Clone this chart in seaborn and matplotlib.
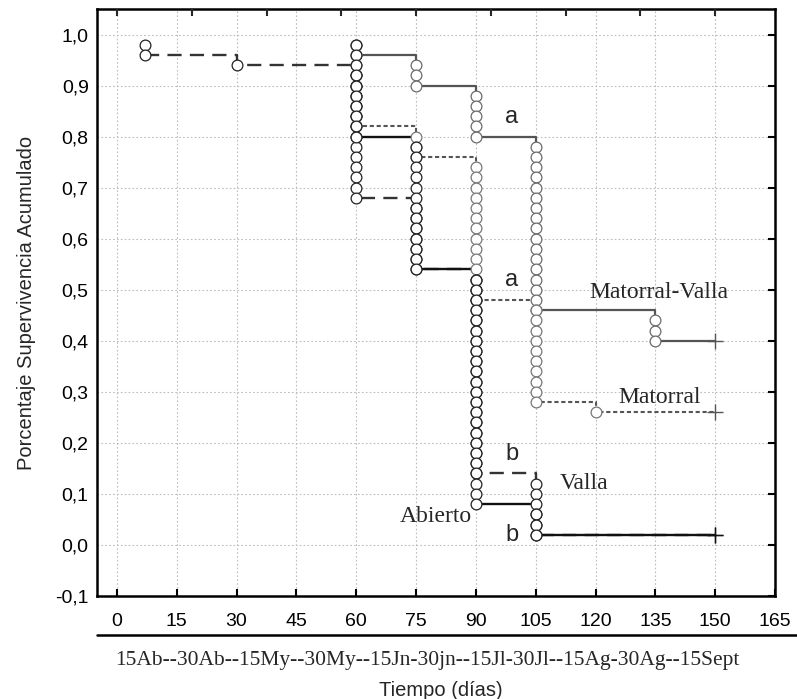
import numpy as np
import pandas as pd
import matplotlib
matplotlib.use("Agg")
import matplotlib.pyplot as plt
import seaborn as sns
from matplotlib.lines import Line2D

# ---------------- data ----------------
N_PLANTAS = 50          # plants per treatment
T_FIN = 150             # end of follow-up (censored)

grupos = ["Matorral-Valla", "Matorral", "Valla", "Abierto"]
mv_dias = [60, 75, 90, 105, 135]
mv_muertes = [2, 3, 5, 17, 3]
mat_dias = [60, 75, 90, 105, 120]
mat_muertes = [9, 3, 14, 10, 1]
valla_dias = [7, 30, 60, 75, 90, 105]
valla_muertes = [2, 1, 13, 7, 20, 6]
abierto_dias = [60, 75, 90, 105]
abierto_muertes = [10, 13, 23, 3]

x_ticks = [0, 15, 30, 45, 60, 75, 90, 105, 120, 135, 150, 165]
y_ticks = [-0.1, 0.0, 0.1, 0.2, 0.3, 0.4, 0.5, 0.6, 0.7, 0.8, 0.9, 1.0]
top_ticks = [0, 18.75, 37.5, 56.25, 75, 93.75, 112.5, 131.25, 150]
fechas = "15Ab--30Ab--15My--30My--15Jn-30jn--15Jl-30Jl--15Ag-30Ag--15Sept"

etiquetas_grupo = {  # label text, x, y
    "Matorral-Valla": (136, 0.494),
    "Matorral": (136, 0.289),
    "Valla": (117, 0.121),
    "Abierto": (80, 0.055),
}
letras = [("a", 99, 0.838), ("a", 99, 0.52), ("b", 99, 0.178), ("b", 99, 0.02)]

datos = {
    "Matorral-Valla": (mv_dias, mv_muertes),
    "Matorral": (mat_dias, mat_muertes),
    "Valla": (valla_dias, valla_muertes),
    "Abierto": (abierto_dias, abierto_muertes),
}

# ---------------- build step and event tables ----------------
filas_linea, filas_evento, filas_fin = [], [], []
for g in grupos:
    dias, muertes = datos[g]
    acum = 0
    for t, d in zip(dias, muertes):
        for _ in range(d):
            acum += 1
            filas_evento.append((g, t, 1 - acum / N_PLANTAS))
        filas_linea.append((g, t, 1 - acum / N_PLANTAS))
    filas_linea.append((g, T_FIN, 1 - acum / N_PLANTAS))
    filas_fin.append((g, T_FIN, 1 - acum / N_PLANTAS))

lineas = pd.DataFrame(filas_linea, columns=["grupo", "t", "s"])
eventos = pd.DataFrame(filas_evento, columns=["grupo", "t", "s"])
finales = pd.DataFrame(filas_fin, columns=["grupo", "t", "s"])

estilos = {
    "Matorral-Valla": dict(color="#555555", ls="-", lw=1.6, edge="#6a6a6a"),
    "Matorral": dict(color="#555555", ls=(0, (2.0, 1.3)), lw=1.5, edge="#777777"),
    "Valla": dict(color="#333333", ls=(0, (6, 3.5)), lw=1.7, edge="#222222"),
    "Abierto": dict(color="#111111", ls="-", lw=1.7, edge="#222222"),
}

# ---------------- figure ----------------
sns.set_style("white")
plt.rcParams["font.family"] = ["Liberation Sans", "DejaVu Sans"]

fig = plt.figure(figsize=(7.97, 6.99), dpi=100)
ax = fig.add_axes([97 / 797, 1 - 596 / 699, (775 - 97) / 797, (596 - 9) / 699])

for g in grupos:
    st = estilos[g]
    sub = lineas[lineas.grupo == g]
    sns.lineplot(data=sub, x="t", y="s", ax=ax, estimator=None, sort=False,
                 drawstyle="steps-post", color=st["color"], linestyle=st["ls"],
                 linewidth=st["lw"], zorder=3)

for g in grupos:
    st = estilos[g]
    sub = eventos[eventos.grupo == g]
    sns.scatterplot(data=sub, x="t", y="s", ax=ax, marker="o", s=60,
                    color="white", edgecolor=st["edge"], linewidth=0.9,
                    zorder=5, legend=False)
    fin = finales[finales.grupo == g]
    sns.scatterplot(data=fin, x="t", y="s", ax=ax, marker="+", s=130,
                    color=st["color"], linewidth=1.0, zorder=5, legend=False)

ax.set_xlim(-5, 165)
ax.set_ylim(-0.1, 1.05)
ax.set_xticks(x_ticks)
ax.set_xticklabels([str(v) for v in x_ticks])
ax.set_yticks(y_ticks)
ax.set_yticklabels([f"{v:.1f}".replace(".", ",") for v in y_ticks])
ax.grid(True, color="#bdbdbd", linestyle=(0, (1.5, 2.0)), linewidth=0.8)
ax.set_axisbelow(True)
ax.tick_params(axis="both", direction="in", length=5, width=1.5,
               right=True, top=False, labelsize=14, colors="black")
ax.tick_params(axis="x", pad=12)
ax.tick_params(axis="y", pad=6)
ax.set_xlabel("")
ax.set_ylabel("Porcentaje Supervivencia Acumulado", fontsize=14.5, labelpad=14)
for sp in ax.spines.values():
    sp.set_visible(True)
    sp.set_color("black")
    sp.set_linewidth(1.8)

tw = ax.twiny()
tw.set_xlim(ax.get_xlim())
tw.set_xticks(top_ticks)
tw.tick_params(axis="x", direction="in", length=5, width=1.5, top=True,
               labeltop=False)
for sp in tw.spines.values():
    sp.set_visible(False)

for g, (tx, ty) in etiquetas_grupo.items():
    ax.text(tx, ty, g, ha="center", va="center", fontsize=17,
            family="Liberation Serif", zorder=6)
for txt, tx, ty in letras:
    ax.text(tx, ty, txt, ha="center", va="center", fontsize=17, zorder=6)

fig.add_artist(Line2D([97 / 797, 1.0], [1 - 635 / 699] * 2, color="black",
                      lw=1.8, transform=fig.transFigure))
fig.text(427 / 797, 1 - 660 / 699, fechas, ha="center", va="center",
         fontsize=15.5, family="Liberation Serif")
fig.text(441 / 797, 1 - 690 / 699, "Tiempo (días)", ha="center", va="center",
         fontsize=14.5)

fig.savefig("out.png", dpi=100)
